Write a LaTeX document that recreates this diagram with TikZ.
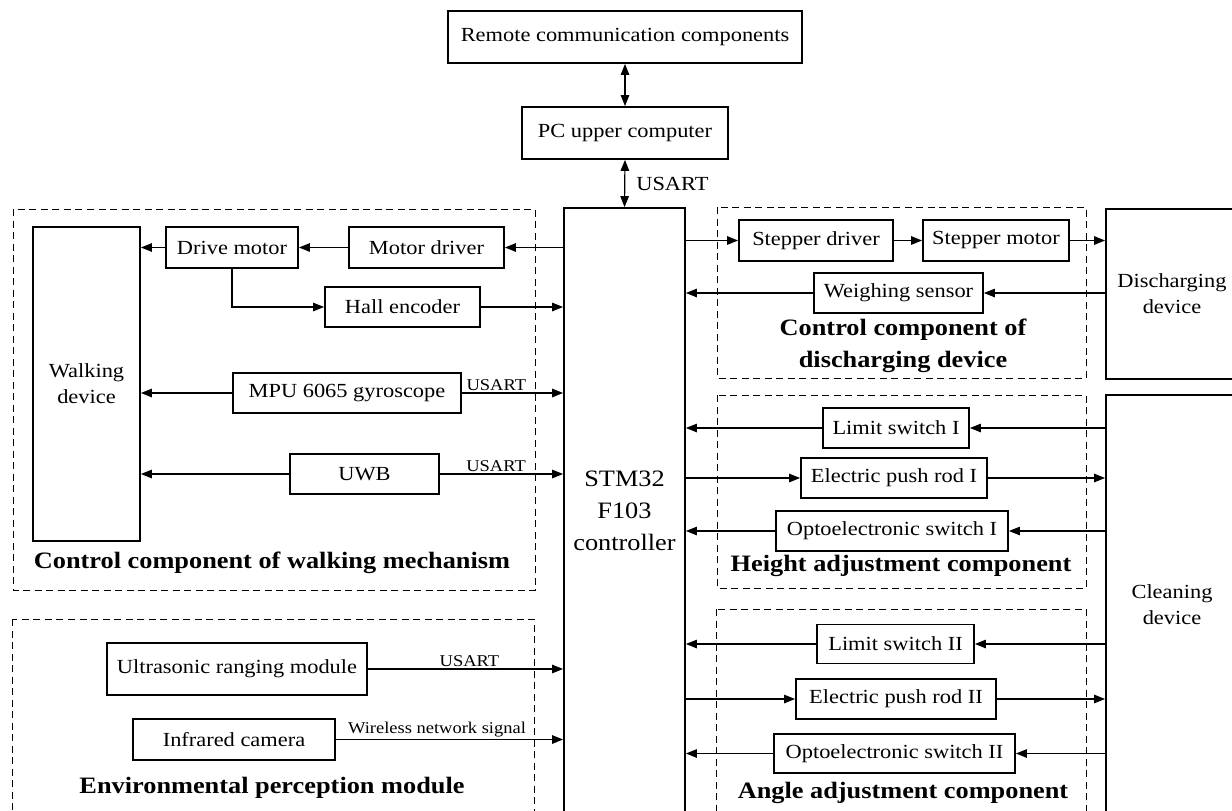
\documentclass[tikz,border=0pt]{standalone}
\usepackage{fontspec}
\setmainfont[FakeStretch=1.12]{Liberation Serif}
\usetikzlibrary{arrows.meta}
\newcommand\myNormal{\fontsize{20}{26}\selectfont}
\newcommand\myBig{\fontsize{23.5}{32}\selectfont}
\newcommand\myTitle{\fontsize{23.5}{32}\selectfont\bfseries}
\newcommand\mySmall{\fontsize{16.5}{20}\selectfont}
\begin{document}
\begin{tikzpicture}[x=1pt,y=-1pt,
  box/.style={draw, line width=1.8pt, inner sep=0pt, font=\myNormal, align=center},
  arr/.style={line width=1.2pt, -{Triangle[length=11pt,width=8.5pt]}},
  darr/.style={line width=1.2pt, {Triangle[length=11pt,width=8.5pt]}-{Triangle[length=11pt,width=8.5pt]}},
  grp/.style={line width=1pt, dash pattern=on 7pt off 4.5pt},
  ttl/.style={font=\myTitle, align=center, inner sep=0pt},
  lbl/.style={font=\mySmall, inner sep=2pt, anchor=south}]
\useasboundingbox (0,0) rectangle (1232,811);

% dashed groups
\draw[grp] (13,209) rectangle (535,590);
\draw[grp] (12,619) rectangle (534,830);
\draw[grp] (717,207) rectangle (1086,378);
\draw[grp] (717,395) rectangle (1086,588);
\draw[grp] (716,609) rectangle (1086,830);

% top
\node[box, minimum width=354pt, minimum height=52pt] (remote) at (625,37) {Remote communication components};
\node[box, minimum width=206pt, minimum height=52pt] (pc) at (625,133) {PC upper computer};
\node[box, font=\myBig, minimum width=121pt, minimum height=606pt] (stm) at (624.5,511) {STM32\\F103\\controller};

% walking
\node[box, minimum width=107pt, minimum height=314pt] (wd) at (86.5,384) {Walking\\device};
\node[box, minimum width=132pt, minimum height=41pt] (dm) at (232,247.5) {Drive motor};
\node[box, minimum width=155pt, minimum height=41pt] (md) at (426.5,247.5) {Motor driver};
\node[box, minimum width=155pt, minimum height=40pt] (hall) at (402.5,307) {Hall encoder};
\node[box, minimum width=228pt, minimum height=40pt] (mpu) at (347,393) {MPU 6065 gyroscope};
\node[box, minimum width=149pt, minimum height=40pt] (uwb) at (364.5,474) {UWB};
\node[ttl] (twalk) at (272,563) {Control component of walking mechanism};

% environment
\node[box, minimum width=260pt, minimum height=52pt] (us) at (237,669) {Ultrasonic ranging module};
\node[box, minimum width=202pt, minimum height=41pt] (ir) at (234,739.5) {Infrared camera};
\node[ttl] (tenv) at (272,788) {Environmental perception module};

% discharging
\node[box, minimum width=154pt, minimum height=41pt] (sd) at (816,240.5) {Stepper driver};
\node[box, minimum width=146pt, minimum height=41pt] (sm) at (996,240.5) {Stepper motor};
\node[box, minimum width=169pt, minimum height=40pt] (ws) at (898.5,293) {Weighing sensor};
\node[ttl] (tdis) at (903,346) {Control component of\\discharging device};
\node[box, minimum width=132pt, minimum height=170pt] (dd) at (1172,294) {Discharging\\device};

% height
\node[box, minimum width=146pt, minimum height=40pt] (l1) at (896,428) {Limit switch I};
\node[box, minimum width=186pt, minimum height=40pt] (p1) at (894,478) {Electric push rod I};
\node[box, minimum width=232pt, minimum height=40pt] (o1) at (892,531) {Optoelectronic switch I};
\node[ttl] (thei) at (901,566) {Height adjustment component};

% angle
\node[box, minimum width=157pt, minimum height=39pt] (l2) at (895.5,644) {Limit switch II};
\node[box, minimum width=200pt, minimum height=40pt] (p2) at (896,699) {Electric push rod II};
\node[box, minimum width=241pt, minimum height=39pt] (o2) at (894.5,753.5) {Optoelectronic switch II};
\node[ttl] (tang) at (903,793) {Angle adjustment component};

\node[box, minimum width=132pt, minimum height=419pt] (cd) at (1172,604.5) {Cleaning\\device};

% connectors top
\draw[darr] (remote.south) -- (pc.north);
\draw[darr] (pc.south) -- (stm.north) node[midway, anchor=west, inner sep=0pt, xshift=11pt, font=\myNormal] {USART};

% walking connectors
\draw[arr] (stm.west |- md.east) -- (md.east);
\draw[arr] (md.west) -- (dm.east);
\draw[arr] (dm.west) -- (wd.east |- dm.west);
\draw[arr] (dm.south) |- (hall.west);
\draw[arr] (hall.east) -- (hall.east -| stm.west);
\draw[arr] (mpu.west) -- (wd.east |- mpu.west);
\draw[arr] (mpu.east) -- (mpu.east -| stm.west) node[lbl, pos=0.34] {USART};
\draw[arr] (uwb.west) -- (wd.east |- uwb.west);
\draw[arr] (uwb.east) -- (uwb.east -| stm.west) node[lbl, pos=0.456] {USART};

% environment connectors
\draw[arr] (us.east) -- (us.east -| stm.west) node[lbl, pos=0.52] {USART};
\draw[arr] (ir.east) -- (ir.east -| stm.west) node[lbl, pos=0.445] {Wireless network signal};

% discharging connectors
\draw[arr] (stm.east |- sd.west) -- (sd.west);
\draw[arr] (sd.east) -- (sm.west);
\draw[arr] (sm.east) -- (sm.east -| dd.west);
\draw[arr] (dd.west |- ws.east) -- (ws.east);
\draw[arr] (ws.west) -- (ws.west -| stm.east);

% height connectors
\draw[arr] (cd.west |- l1.east) -- (l1.east);
\draw[arr] (l1.west) -- (l1.west -| stm.east);
\draw[arr] (stm.east |- p1.west) -- (p1.west);
\draw[arr] (p1.east) -- (p1.east -| cd.west);
\draw[arr] (cd.west |- o1.east) -- (o1.east);
\draw[arr] (o1.west) -- (o1.west -| stm.east);

% angle connectors
\draw[arr] (cd.west |- l2.east) -- (l2.east);
\draw[arr] (l2.west) -- (l2.west -| stm.east);
\draw[arr] (stm.east |- p2.west) -- (p2.west);
\draw[arr] (p2.east) -- (p2.east -| cd.west);
\draw[arr] (cd.west |- o2.east) -- (o2.east);
\draw[arr] (o2.west) -- (o2.west -| stm.east);
\end{tikzpicture}
\end{document}
